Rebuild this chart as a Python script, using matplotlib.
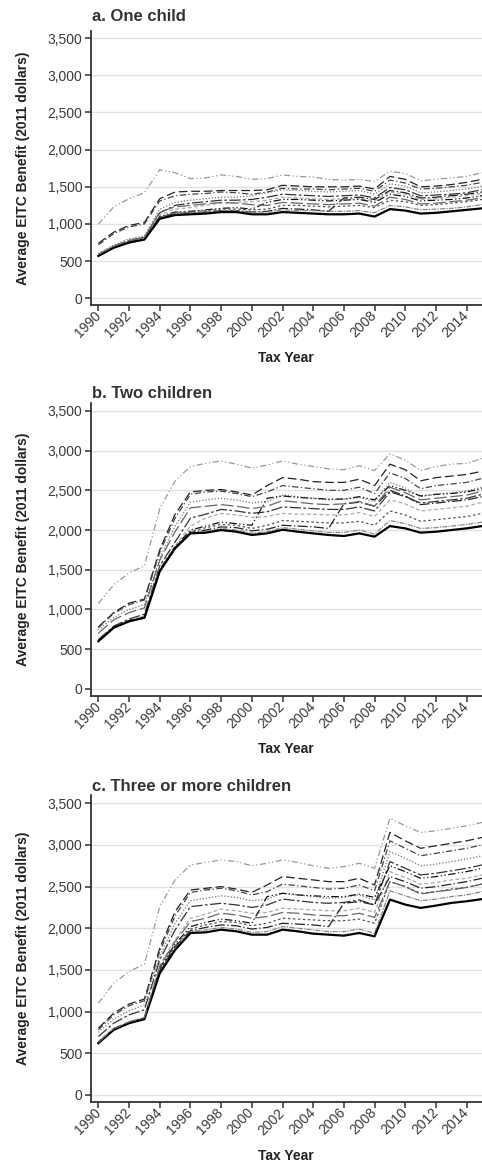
import matplotlib
matplotlib.use("Agg")
import matplotlib.pyplot as plt
from matplotlib.ticker import FuncFormatter

plt.rcParams['font.family'] = ['Liberation Sans', 'DejaVu Sans']

years = list(range(1990, 2016))
year_ticks = list(range(1990, 2015, 2))
value_ticks = [0, 500, 1000, 1500, 2000, 2500, 3000, 3500]

panel_titles = ["a. One child", "b. Two children", "c. Three or more children"]

# average benefit per line, one list per line, 1990..2015
one_child = [
    [1000, 1230, 1340, 1420, 1730, 1690, 1610, 1620, 1660, 1640, 1600, 1610, 1660, 1640, 1630, 1600, 1590, 1600, 1570, 1710, 1680, 1580, 1600, 1620, 1640, 1690],
    [740, 890, 980, 1020, 1340, 1430, 1440, 1440, 1450, 1450, 1450, 1460, 1520, 1510, 1500, 1500, 1500, 1510, 1470, 1640, 1600, 1500, 1510, 1530, 1560, 1600],
    [720, 870, 960, 1000, 1310, 1380, 1400, 1410, 1430, 1420, 1400, 1430, 1480, 1470, 1470, 1460, 1470, 1480, 1440, 1590, 1550, 1470, 1480, 1500, 1520, 1560],
    [600, 720, 800, 840, 1200, 1290, 1320, 1340, 1360, 1360, 1380, 1420, 1460, 1450, 1440, 1430, 1440, 1450, 1400, 1540, 1510, 1420, 1430, 1450, 1470, 1510],
    [590, 700, 780, 820, 1150, 1250, 1280, 1300, 1320, 1320, 1330, 1360, 1400, 1390, 1380, 1370, 1380, 1390, 1350, 1490, 1460, 1380, 1390, 1400, 1420, 1460],
    [590, 700, 770, 810, 1120, 1200, 1220, 1250, 1280, 1290, 1300, 1320, 1360, 1350, 1340, 1330, 1340, 1340, 1310, 1430, 1400, 1330, 1340, 1360, 1380, 1410],
    [580, 690, 760, 800, 1100, 1160, 1170, 1190, 1210, 1220, 1200, 1290, 1330, 1330, 1320, 1310, 1320, 1330, 1290, 1400, 1370, 1310, 1320, 1330, 1350, 1380],
    [580, 690, 760, 800, 1090, 1150, 1170, 1180, 1200, 1200, 1190, 1200, 1250, 1250, 1240, 1230, 1240, 1250, 1220, 1320, 1300, 1250, 1260, 1280, 1300, 1330],
    [580, 690, 760, 800, 1090, 1140, 1150, 1160, 1180, 1180, 1160, 1170, 1210, 1200, 1190, 1170, 1350, 1360, 1330, 1450, 1420, 1350, 1360, 1380, 1400, 1430],
    [580, 690, 760, 800, 1080, 1140, 1150, 1160, 1180, 1180, 1160, 1160, 1190, 1180, 1180, 1170, 1170, 1180, 1150, 1250, 1230, 1190, 1200, 1210, 1230, 1260],
    [570, 680, 750, 790, 1070, 1120, 1130, 1140, 1160, 1160, 1130, 1130, 1160, 1150, 1140, 1130, 1130, 1140, 1100, 1200, 1180, 1140, 1150, 1170, 1190, 1210],
    [590, 700, 780, 820, 1160, 1230, 1250, 1270, 1290, 1280, 1260, 1250, 1290, 1280, 1270, 1260, 1270, 1280, 1240, 1360, 1330, 1270, 1280, 1300, 1320, 1350],
]

two_children = [
    [1075, 1310, 1460, 1550, 2270, 2620, 2800, 2840, 2870, 2830, 2780, 2820, 2870, 2830, 2800, 2770, 2760, 2810, 2750, 2960, 2880, 2750, 2800, 2830, 2840, 2900],
    [780, 960, 1080, 1130, 1750, 2200, 2480, 2500, 2510, 2480, 2440, 2560, 2660, 2640, 2610, 2600, 2600, 2640, 2560, 2830, 2760, 2620, 2660, 2680, 2700, 2740],
    [770, 950, 1060, 1120, 1720, 2150, 2450, 2480, 2490, 2460, 2420, 2480, 2560, 2540, 2520, 2500, 2500, 2540, 2460, 2720, 2650, 2520, 2560, 2580, 2600, 2650],
    [740, 900, 1000, 1060, 1650, 2050, 2350, 2380, 2400, 2380, 2340, 2360, 2440, 2420, 2400, 2380, 2390, 2410, 2360, 2600, 2530, 2420, 2450, 2470, 2490, 2540],
    [620, 790, 880, 940, 1550, 1850, 2150, 2200, 2260, 2240, 2210, 2230, 2290, 2280, 2270, 2260, 2260, 2290, 2240, 2480, 2420, 2340, 2360, 2380, 2400, 2450],
    [610, 780, 860, 920, 1520, 1800, 2050, 2150, 2210, 2190, 2160, 2170, 2210, 2200, 2200, 2190, 2190, 2220, 2170, 2380, 2330, 2240, 2260, 2280, 2300, 2350],
    [610, 780, 860, 910, 1500, 1790, 2000, 2050, 2100, 2080, 2060, 2400, 2430, 2410, 2400, 2390, 2390, 2420, 2380, 2560, 2500, 2430, 2450, 2460, 2480, 2520],
    [605, 775, 855, 900, 1490, 1780, 1980, 2030, 2070, 2060, 2020, 2060, 2120, 2110, 2100, 2090, 2090, 2110, 2060, 2240, 2190, 2110, 2130, 2150, 2170, 2210],
    [605, 775, 855, 900, 1490, 1780, 1970, 2000, 2040, 2030, 1990, 2010, 2060, 2050, 2040, 2020, 2330, 2350, 2300, 2500, 2430, 2320, 2340, 2360, 2380, 2420],
    [605, 775, 855, 900, 1485, 1775, 1965, 1980, 2020, 2000, 1960, 1980, 2030, 2010, 1990, 1970, 1970, 2000, 1950, 2120, 2080, 2020, 2030, 2050, 2070, 2100],
    [600, 770, 850, 895, 1480, 1770, 1958, 1967, 2000, 1979, 1938, 1958, 2004, 1979, 1958, 1938, 1925, 1958, 1917, 2050, 2021, 1967, 1979, 2000, 2021, 2050],
    [700, 870, 960, 1020, 1620, 1980, 2280, 2300, 2320, 2300, 2270, 2300, 2370, 2350, 2330, 2320, 2330, 2360, 2300, 2540, 2470, 2380, 2400, 2420, 2440, 2490],
]

three_children = [
    [1100, 1340, 1480, 1570, 2260, 2580, 2760, 2790, 2820, 2800, 2750, 2780, 2820, 2790, 2750, 2720, 2740, 2780, 2720, 3320, 3230, 3150, 3170, 3200, 3230, 3270],
    [800, 980, 1090, 1150, 1760, 2200, 2460, 2480, 2500, 2470, 2430, 2520, 2620, 2600, 2580, 2560, 2560, 2600, 2520, 3150, 3050, 2960, 2990, 3020, 3050, 3090],
    [780, 960, 1070, 1130, 1720, 2150, 2430, 2460, 2480, 2450, 2400, 2440, 2530, 2510, 2490, 2470, 2480, 2520, 2450, 3050, 2960, 2870, 2900, 2930, 2960, 3000],
    [750, 910, 1010, 1080, 1660, 2060, 2330, 2360, 2390, 2370, 2330, 2350, 2420, 2400, 2380, 2360, 2370, 2400, 2340, 2920, 2840, 2750, 2770, 2800, 2830, 2870],
    [700, 860, 960, 1020, 1620, 1980, 2260, 2280, 2300, 2280, 2250, 2280, 2350, 2330, 2310, 2300, 2310, 2340, 2280, 2800, 2720, 2640, 2660, 2690, 2720, 2760],
    [640, 800, 880, 930, 1560, 1860, 2120, 2170, 2230, 2210, 2180, 2190, 2240, 2230, 2220, 2210, 2210, 2240, 2190, 2680, 2610, 2530, 2550, 2580, 2600, 2640],
    [630, 790, 870, 920, 1520, 1810, 2020, 2070, 2110, 2090, 2060, 2380, 2420, 2400, 2390, 2380, 2380, 2410, 2370, 2750, 2680, 2600, 2620, 2650, 2680, 2720],
    [625, 785, 865, 915, 1500, 1790, 1990, 2040, 2080, 2070, 2030, 2060, 2120, 2110, 2100, 2090, 2090, 2110, 2060, 2560, 2500, 2420, 2440, 2470, 2490, 2530],
    [625, 785, 865, 915, 1490, 1780, 1970, 2010, 2040, 2030, 1990, 2010, 2060, 2050, 2040, 2020, 2300, 2320, 2280, 2620, 2560, 2480, 2500, 2530, 2560, 2600],
    [622, 782, 862, 910, 1480, 1760, 1960, 1980, 2010, 1990, 1950, 1960, 2020, 2000, 1980, 1960, 1960, 1990, 1940, 2450, 2390, 2330, 2350, 2380, 2400, 2440],
    [620, 780, 860, 908, 1460, 1740, 1943, 1951, 1983, 1963, 1923, 1923, 1983, 1963, 1935, 1923, 1911, 1943, 1903, 2344, 2284, 2244, 2272, 2304, 2324, 2350],
    [630, 795, 875, 925, 1540, 1840, 2080, 2120, 2180, 2160, 2120, 2140, 2190, 2180, 2160, 2150, 2150, 2180, 2130, 2560, 2500, 2410, 2440, 2460, 2490, 2530],
]

# one style per line (colour, dash, width)
line_styles = [
    ('#999999', (0, (5, 2, 1, 2, 1, 2)), 0.9),
    ('#222222', (0, (7, 3)), 0.9),
    ('#444444', (0, (5, 2, 1, 2)), 0.9),
    ('#777777', (0, (1, 1.5)), 0.9),
    ('#333333', (0, (9, 2, 2, 2)), 0.9),
    ('#aaaaaa', (0, (3, 2)), 0.9),
    ('#111111', (0, (6, 2, 1, 2, 1, 2)), 0.9),
    ('#555555', (0, (2, 2)), 0.9),
    ('#222222', (0, (8, 2, 1, 2)), 0.9),
    ('#888888', (0, (4, 1, 1, 1)), 0.9),
    ('#000000', '-', 1.6),
    ('#666666', (0, (10, 3)), 0.9),
]

W, H = 482, 1165
fig = plt.figure(figsize=(W / 100, H / 100), dpi=100)

# axes boxes in pixels: top, bottom of the plot area
boxes = [(30.7, 305.0), (403.0, 696.0), (795.0, 1102.3)]
title_y = [16.7, 393.0, 786.7]
left_px = 90.7

for data, title, (top, bot), ty in zip([one_child, two_children, three_children],
                                       panel_titles, boxes, title_y):
    ax = fig.add_axes([left_px / W, 1 - bot / H, 1 - left_px / W, (bot - top) / H])
    for series, (col, ls, lw) in zip(data, line_styles):
        ax.plot(years, series, color=col, linestyle=ls, linewidth=lw)

    ax.set_xlim(1989.5, 2015)
    ax.set_ylim(-90, 3600)
    ax.set_xticks(year_ticks)
    ax.set_yticks(value_ticks)
    ax.yaxis.set_major_formatter(FuncFormatter(lambda v, p: f"{int(v):,}"))
    ax.grid(axis='y', color='#e2e2e2', linewidth=1.0)
    ax.set_axisbelow(True)
    for s in ['top', 'right']:
        ax.spines[s].set_visible(False)
    for s in ['left', 'bottom']:
        ax.spines[s].set_color('#333333')
        ax.spines[s].set_linewidth(1.3)
    ax.tick_params(axis='both', direction='out', length=4, width=1.1,
                   color='#333333', labelcolor='#3a3a3a', labelsize=10, pad=2)
    for lab in ax.get_xticklabels():
        lab.set_rotation(45)
        lab.set_ha('right')
        lab.set_va('center')
        lab.set_rotation_mode('anchor')

    ax.set_xlabel("Tax Year", fontsize=10, fontweight='bold', color='#222222', labelpad=8)
    ax.set_ylabel("Average EITC Benefit (2011 dollars)", fontsize=10,
                  fontweight='bold', color='#222222')
    ax.yaxis.set_label_coords(-0.155, 0.5)

    fig.text(92 / W, 1 - ty / H, title, fontsize=12, fontweight='bold',
             color='#333333', ha='left', va='center')

fig.savefig("out.png", dpi=100)
